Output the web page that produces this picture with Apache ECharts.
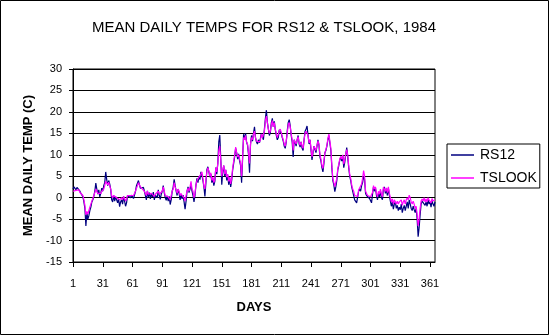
<!DOCTYPE html>
<html>
<head>
<meta charset="utf-8">
<script src="https://cdn.jsdelivr.net/npm/echarts@6/dist/echarts.min.js"></script>
<style>
html,body{margin:0;padding:0;background:#fff;}
#c{width:550px;height:336px;}
</style>
</head>
<body>
<div id="c"></div>
<script>
var titleText = 'MEAN DAILY TEMPS FOR RS12 & TSLOOK, 1984';
var xName = 'DAYS';
var yName = 'MEAN DAILY TEMP (C)';
var seriesNames = ['RS12', 'TSLOOK'];
var yTicks = [-15, -10, -5, 0, 5, 10, 15, 20, 25, 30];

var days = [];
for (var d = 1; d <= 366; d++) days.push(String(d));

var rs12 = [
 2.0, 2.5, 2.2, 1.8, 2.4, 2.0, 2.6, 1.5, 1.0, 1.3,
 0.2, -1.0, -2.5, -6.6, -3.5, -5.0, -4.2, -3.0, -2.2, -1.0,
 -0.5, 0.3, 1.5, 3.4, 2.0, 0.8, 1.8, 0.2, 1.0, 2.2,
 1.5, 2.8, 3.5, 6.0, 4.2, 2.8, 4.0, 3.2, 2.0, -0.5,
 -1.0, 0.5, -0.8, 0.2, -0.5, -1.2, -0.3, -2.1, -1.0, -0.5,
 -1.5, 0.3, -0.8, -2.0, -1.2, 0.5, 0.2, 0.8, 0.0, 0.6,
 0.3, -0.2, 0.6, 1.5, 2.8, 3.2, 4.0, 3.0, 2.2, 2.6,
 1.8, 2.4, 1.5, 0.5, -0.5, 1.6, 0.2, 1.2, -0.3, 0.8,
 0.2, 1.3, -0.5, 0.6, 1.0, 0.0, 1.8, 0.5, -0.4, 0.8,
 1.5, 2.8, 1.2, 0.0, -0.6, 0.4, -0.8, 0.3, -1.6, -0.5,
 1.5, 2.4, 4.3, 2.8, 1.5, 0.5, 2.0, 1.0, -0.5, 0.8,
 -0.3, 0.6, -1.0, -2.7, -0.8, 1.5, 2.5, 1.2, 2.0, 3.0,
 1.5, 0.5, -1.0, 0.5, 3.0, 4.5, 3.5, 5.0, 4.2, 6.0,
 5.2, 4.0, 2.5, 0.3, 3.5, 6.5, 7.2, 6.0, 4.8, 5.5,
 3.5, 4.5, 2.8, 3.8, 7.0, 5.5, 8.0, 13.0, 14.6, 9.0,
 3.0, 6.0, 7.5, 5.0, 6.5, 4.0, 5.2, 3.0, 4.5, 2.5,
 4.0, 6.5, 8.0, 9.5, 11.5, 10.5, 9.0, 10.2, 8.5, 7.5,
 3.5, 9.0, 14.8, 13.5, 15.0, 13.0, 12.2, 10.0, 5.8, 12.5,
 14.5, 13.2, 15.0, 16.5, 14.0, 13.0, 12.5, 13.5, 12.8, 13.2,
 15.0, 14.2, 13.5, 16.0, 18.5, 20.4, 17.5, 16.0, 14.5, 15.2,
 17.5, 18.5, 16.5, 17.8, 15.8, 14.5, 13.5, 14.0, 15.8, 16.2,
 15.0, 14.0, 13.2, 12.0, 11.5, 13.0, 15.5, 17.5, 18.2, 16.8,
 14.5, 13.0, 9.5, 13.5, 12.8, 12.0, 13.5, 14.5, 12.5, 11.8,
 13.0, 11.5, 11.0, 13.5, 15.5, 16.0, 16.7, 14.5, 12.5, 13.5,
 11.0, 8.8, 10.5, 12.0, 11.2, 10.5, 12.0, 13.5, 12.2, 9.5,
 8.5, 7.0, 6.0, 8.0, 10.5, 11.0, 12.0, 13.5, 14.5, 14.8,
 11.0, 7.0, 4.0, 3.0, 1.4, 2.5, 4.0, 6.5, 7.5, 8.8,
 9.5, 8.5, 9.8, 7.0, 8.2, 10.0, 11.7, 9.5, 7.0, 5.0,
 4.0, 2.5, 1.5, 0.5, -0.5, -0.8, -1.2, -0.8, 1.5, 2.0,
 1.5, 2.8, 3.5, 5.0, 4.2, 1.0, 0.5, 0.2, 0.5, -0.2,
 -0.5, -1.2, 0.8, 2.5, 1.5, 2.2, 0.5, -0.5, 1.0, 0.2,
 1.5, 0.0, -0.5, 2.0, 2.5, 1.0, 1.8, 0.5, 2.2, 0.5,
 -0.8, -2.0, -1.0, -2.7, -1.5, -1.0, -2.5, -1.8, -3.0, -2.2,
 -2.8, -1.5, -3.5, -2.5, -1.8, -3.0, -2.0, -1.0, -2.5, -0.5,
 -1.5, -2.5, -3.0, -2.0, -2.8, -3.5, -2.5, -5.0, -9.1, -7.0,
 -4.0, -1.5, -0.8, -1.2, -0.5, -1.8, -1.0, -2.0, -0.5, -1.5,
 -1.0, -2.2, -0.8, -1.5, -2.0, -1.0
];

var tslook = [
 1.5, 1.8, 1.8, 1.7, 1.8, 2.0, 1.8, 1.2, 1.0, 1.2,
 0.5, -0.5, -1.8, -4.0, -3.2, -3.8, -3.0, -2.2, -1.5, -0.8,
 -0.2, 0.5, 1.2, 2.0, 1.5, 1.0, 1.2, 0.8, 1.0, 1.5,
 1.5, 2.0, 2.8, 3.8, 3.5, 3.0, 3.6, 2.8, 2.0, 0.5,
 0.0, 0.5, 0.2, 0.3, 0.0, -0.3, 0.2, -0.5, -0.3, 0.0,
 -0.5, 0.3, -0.2, -0.8, -0.3, 0.5, 0.5, 0.8, 0.5, 0.8,
 0.5, 0.5, 0.8, 1.5, 2.2, 2.8, 3.5, 3.0, 2.5, 2.2,
 2.0, 2.0, 1.5, 1.0, 0.5, 1.5, 0.8, 1.2, 0.5, 1.0,
 0.8, 1.2, 0.3, 0.8, 1.2, 0.5, 1.5, 0.8, 0.5, 1.0,
 1.5, 2.5, 1.5, 0.5, 0.2, 0.8, 0.2, 0.5, -0.5, 0.5,
 1.5, 2.0, 3.5, 2.5, 1.8, 1.0, 2.0, 1.5, 0.5, 1.0,
 0.5, 0.8, 0.0, -0.8, 0.5, 1.5, 2.2, 1.5, 2.5, 3.8,
 2.0, 1.5, 0.0, 1.0, 3.0, 4.0, 3.8, 4.8, 4.5, 5.5,
 6.0, 4.5, 2.7, 2.0, 4.0, 6.0, 7.0, 6.2, 5.0, 5.8,
 4.0, 4.8, 3.5, 4.2, 7.0, 6.0, 8.0, 11.0, 12.0, 8.5,
 5.0, 6.5, 7.5, 5.5, 6.5, 4.8, 5.5, 3.8, 4.8, 3.2,
 4.5, 7.0, 8.5, 10.0, 11.8, 10.5, 9.5, 10.0, 9.0, 8.0,
 5.0, 9.5, 14.0, 13.5, 14.5, 13.0, 12.5, 10.5, 8.0, 12.5,
 14.0, 13.5, 14.8, 15.5, 14.0, 13.2, 12.8, 13.5, 13.0, 13.5,
 14.8, 14.0, 13.8, 15.5, 18.0, 19.0, 17.5, 16.0, 15.0, 15.5,
 17.0, 18.0, 16.5, 17.5, 16.0, 14.8, 14.0, 14.2, 15.5, 16.0,
 15.2, 14.2, 13.5, 12.5, 12.0, 13.2, 15.0, 17.0, 17.5, 16.5,
 14.8, 13.5, 11.0, 13.5, 13.0, 12.5, 13.5, 14.2, 12.8, 12.2,
 13.0, 12.0, 11.5, 13.5, 15.0, 15.5, 15.8, 14.5, 12.8, 13.5,
 11.5, 9.5, 10.8, 12.0, 11.5, 11.0, 12.2, 13.2, 12.5, 10.0,
 9.0, 7.5, 6.8, 8.5, 10.5, 11.2, 12.2, 13.8, 14.8, 15.1,
 11.5, 7.5, 4.5, 3.5, 2.6, 3.0, 4.5, 6.8, 7.8, 9.0,
 9.6, 9.0, 10.0, 7.8, 8.8, 10.2, 11.2, 10.0, 7.5, 5.5,
 4.5, 3.0, 2.0, 1.5, 0.5, 0.5, 0.2, 0.3, 1.8, 2.2,
 2.0, 3.2, 4.5, 6.3, 5.0, 1.5, 1.0, 0.5, 0.8, 0.2,
 0.2, -0.2, 1.2, 2.8, 2.0, 2.5, 1.0, 0.2, 1.5, 0.8,
 2.0, 0.8, 0.2, 2.5, 2.9, 1.5, 2.3, 1.2, 2.5, 1.0,
 0.0, -1.0, -0.3, -1.5, -0.5, -0.3, -1.5, -0.8, -1.5, -1.0,
 -1.2, -0.5, -1.8, -1.0, -0.5, -1.5, -0.5, 0.0, -0.5, 0.6,
 0.0, -1.0, -1.5, -0.8, -1.5, -2.5, -2.0, -4.0, -6.6, -5.0,
 -2.5, -0.8, -0.3, -0.8, 0.0, -1.0, -0.3, -1.0, 0.0, -0.5,
 -0.3, -1.2, -0.2, -0.8, -1.2, -0.5
];

var FONT = '"Liberation Sans", Arial, sans-serif';
var chart = echarts.init(document.getElementById('c'), null, {renderer: 'canvas'});
chart.setOption({
  animation: false,
  backgroundColor: '#fff',
  textStyle: {fontFamily: FONT, color: '#000'},
  title: {
    text: titleText,
    left: 259, top: 15,
    textAlign: 'center',
    textStyle: {fontFamily: FONT, fontSize: 15, fontWeight: 'normal', color: '#000'}
  },
  graphic: [{
    type: 'rect', silent: true, z: -1,
    shape: {x: 0.5, y: 0.5, width: 548, height: 334},
    style: {fill: 'none', stroke: '#000', lineWidth: 1}
  }],
  legend: {
    orient: 'vertical',
    left: 447, top: 144,
    padding: [4, 3, 3, 4],
    itemGap: 9,
    icon: 'rect',
    itemWidth: 23, itemHeight: 1.5,
    borderColor: '#000', borderWidth: 1,
    textStyle: {fontFamily: FONT, fontSize: 14, lineHeight: 14, color: '#000', padding: [0, 0, 0, 1]},
    data: seriesNames
  },
  grid: {
    left: 73, right: 115, top: 69, bottom: 74,
    show: true, borderColor: '#000', borderWidth: 1, backgroundColor: 'transparent'
  },
  xAxis: {
    type: 'category',
    data: days,
    boundaryGap: false,
    name: xName,
    nameLocation: 'middle',
    nameGap: 39,
    nameTextStyle: {fontFamily: FONT, fontSize: 13, fontWeight: 'bold', color: '#000'},
    axisLine: {onZero: false, lineStyle: {color: '#000', width: 1}},
    axisTick: {show: true, interval: 29, length: 5, lineStyle: {color: '#000'}},
    axisLabel: {interval: 29, margin: 16, fontFamily: FONT, fontSize: 11, color: '#000'},
    splitLine: {show: false}
  },
  yAxis: {
    type: 'value',
    min: yTicks[0], max: yTicks[yTicks.length - 1], interval: 5,
    name: yName,
    nameLocation: 'middle',
    nameGap: 38,
    nameRotate: 90,
    nameTextStyle: {fontFamily: FONT, fontSize: 13, fontWeight: 'bold', color: '#000'},
    axisLine: {show: true, lineStyle: {color: '#000', width: 1}},
    axisTick: {show: true, length: 4, lineStyle: {color: '#000'}},
    axisLabel: {margin: 11, fontFamily: FONT, fontSize: 11, color: '#000'},
    splitLine: {show: true, lineStyle: {color: '#000', width: 1}}
  },
  series: [{
    name: seriesNames[0], type: 'line', data: rs12,
    symbol: 'none', showSymbol: false,
    lineStyle: {color: '#000080', width: 1.2},
    itemStyle: {color: '#000080'}
  }, {
    name: seriesNames[1], type: 'line', data: tslook,
    symbol: 'none', showSymbol: false,
    lineStyle: {color: '#ff00ff', width: 1.2},
    itemStyle: {color: '#ff00ff'}
  }]
});
</script>
</body>
</html>
